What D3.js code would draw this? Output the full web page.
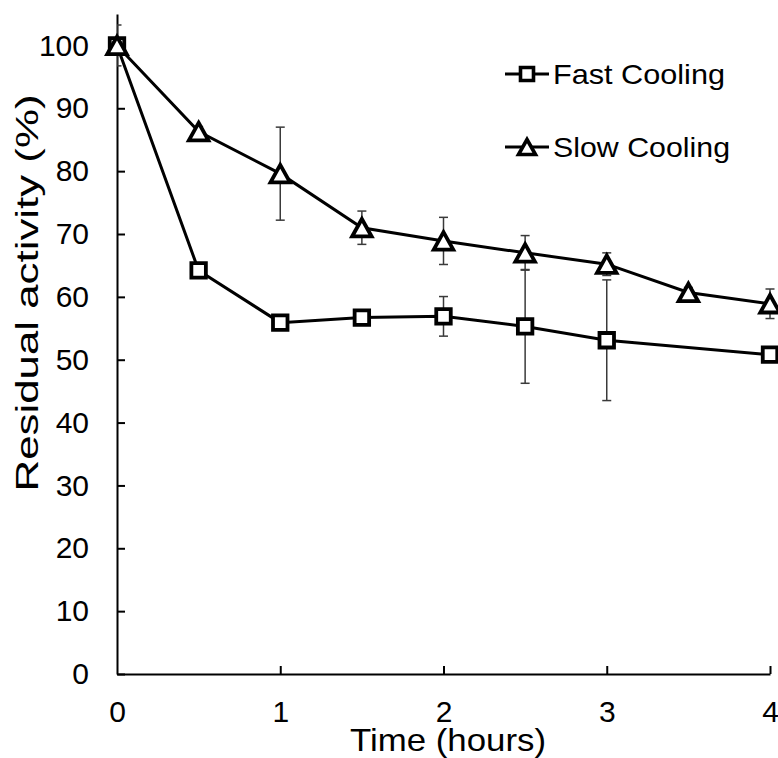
<!DOCTYPE html>
<html>
<head>
<meta charset="utf-8">
<script src="https://cdn.jsdelivr.net/npm/d3@7"></script>
<style>
  body { margin: 0; background: #fff; }
  svg text { font-family: "Liberation Sans", Arial, sans-serif; fill: #000; }
</style>
</head>
<body>
<div id="chart"></div>
<script>
// data
let fastTimes  = [0, 0.5, 1, 1.5, 2, 2.5, 3, 4];
let fastValues = [100, 64.2, 55.9, 56.7, 56.9, 55.3, 53.1, 50.8];
let fastErrors = [3.25, 0.8, 0.8, 0.8, 3.15, 9.05, 9.6, 0.8];

let slowTimes  = [0, 0.5, 1, 1.5, 2, 2.5, 3, 3.5, 4];
let slowValues = [100, 86.3, 79.6, 71.0, 68.9, 67.0, 65.2, 60.7, 58.9];
let slowErrors = [0.8, 0.8, 7.4, 2.65, 3.75, 2.75, 1.8, 0.8, 2.35];

let xTicks = [0, 1, 2, 3, 4];
let yTicks = [0, 10, 20, 30, 40, 50, 60, 70, 80, 90, 100];
let seriesNames = ["Fast Cooling", "Slow Cooling"];

let width = 778, height = 758;
let margin = {left: 117, top: 14, right: 8, bottom: 84};

let svg = d3.select("#chart")
  .append("svg")
  .attr("width", width)
  .attr("height", height);

let x = d3.scaleLinear().domain([0, 4]).range([margin.left, width - margin.right]);
let y = d3.scaleLinear().domain([0, 105]).range([height - margin.bottom, margin.top]);

// clip for error bars (plot area)
svg.append("clipPath").attr("id", "plotclip")
  .append("rect")
  .attr("x", x(0)).attr("y", 0)
  .attr("width", width - x(0)).attr("height", y(0));

// axes
let xAxis = svg.append("g")
  .attr("transform", "translate(0," + y(0) + ")")
  .call(d3.axisBottom(x).tickValues(xTicks).tickSizeInner(-8).tickSizeOuter(0).tickPadding(27).tickFormat(d3.format("d")));

let yAxis = svg.append("g")
  .attr("transform", "translate(" + x(0) + ",0)")
  .call(d3.axisLeft(y).tickValues(yTicks).tickSizeInner(-8).tickSizeOuter(0).tickPadding(28).tickFormat(d3.format("d")));

[xAxis, yAxis].forEach(function(a) {
  a.select(".domain").attr("stroke", "#000").attr("stroke-width", 2);
  a.selectAll(".tick line").attr("stroke", "#000").attr("stroke-width", 2);
  a.selectAll(".tick text").attr("font-size", "30px").attr("fill", "#000");
});
xAxis.selectAll(".tick").filter(function(d) { return d === 0; }).select("line").remove();

// axis titles
svg.append("text")
  .attr("x", 448)
  .attr("y", 751)
  .attr("text-anchor", "middle")
  .attr("font-size", "32px")
  .attr("textLength", 196)
  .attr("lengthAdjust", "spacingAndGlyphs")
  .text("Time (hours)");

svg.append("text")
  .attr("transform", "translate(38," + 293 + ") rotate(-90)")
  .attr("text-anchor", "middle")
  .attr("font-size", "31px")
  .attr("textLength", 397)
  .attr("lengthAdjust", "spacingAndGlyphs")
  .text("Residual activity (%)");

// helpers
function errorBars(times, values, errors) {
  let g = svg.append("g").attr("clip-path", "url(#plotclip)")
    .attr("stroke", "#3a3a3a").attr("stroke-width", 1.5);
  times.forEach(function(t, i) {
    let top = y(values[i] + errors[i]), bot = y(values[i] - errors[i]);
    g.append("line").attr("x1", x(t)).attr("x2", x(t)).attr("y1", top).attr("y2", bot);
    g.append("line").attr("x1", x(t) - 4.5).attr("x2", x(t) + 4.5).attr("y1", top).attr("y2", top);
    g.append("line").attr("x1", x(t) - 4.5).attr("x2", x(t) + 4.5).attr("y1", bot).attr("y2", bot);
  });
}

function seriesLine(times, values) {
  let line = d3.line().x(function(d) { return x(d[0]); }).y(function(d) { return y(d[1]); });
  svg.append("path")
    .datum(times.map(function(t, i) { return [t, values[i]]; }))
    .attr("d", line)
    .attr("fill", "none")
    .attr("stroke", "#000")
    .attr("stroke-width", 3);
}

function squarePath(cx, cy, s) {
  return "M" + (cx - s/2) + "," + (cy - s/2) + "h" + s + "v" + s + "h" + (-s) + "Z";
}
function trianglePath(cx, cy, w, h) {
  return "M" + cx + "," + (cy - h/2) + "L" + (cx + w/2) + "," + (cy + h/2) + "L" + (cx - w/2) + "," + (cy + h/2) + "Z";
}

errorBars(fastTimes, fastValues, fastErrors);
errorBars(slowTimes, slowValues, slowErrors);
seriesLine(fastTimes, fastValues);

svg.append("g").selectAll("path")
  .data(fastTimes.map(function(t, i) { return [t, fastValues[i]]; }))
  .enter()
  .append("path")
  .attr("d", function(d) { return squarePath(x(d[0]), y(d[1]), 14.5); })
  .attr("fill", "#fff").attr("stroke", "#000").attr("stroke-width", 3.8)
  .attr("stroke-linejoin", "miter");

seriesLine(slowTimes, slowValues);

svg.append("g").selectAll("path")
  .data(slowTimes.map(function(t, i) { return [t, slowValues[i]]; }))
  .enter()
  .append("path")
  .attr("d", function(d) { return trianglePath(x(d[0]), y(d[1]), 19.5, 17.5); })
  .attr("fill", "#fff").attr("stroke", "#000").attr("stroke-width", 3.8)
  .attr("stroke-linejoin", "miter");

// legend
let legendY = [74, 147];
let legend = svg.append("g");
seriesNames.forEach(function(name, i) {
  legend.append("line")
    .attr("x1", 505).attr("x2", 549)
    .attr("y1", legendY[i]).attr("y2", legendY[i])
    .attr("stroke", "#000").attr("stroke-width", 3);
  legend.append("path")
    .attr("d", i === 0 ? squarePath(527, legendY[i], 13) : trianglePath(527, legendY[i], 17, 15))
    .attr("fill", "#fff").attr("stroke", "#000").attr("stroke-width", 3.6);
  legend.append("text")
    .attr("x", 553)
    .attr("y", legendY[i] + 10)
    .attr("font-size", "28px")
    .attr("textLength", i === 0 ? 172 : 177)
    .attr("lengthAdjust", "spacingAndGlyphs")
    .text(name);
});
</script>
</body>
</html>
